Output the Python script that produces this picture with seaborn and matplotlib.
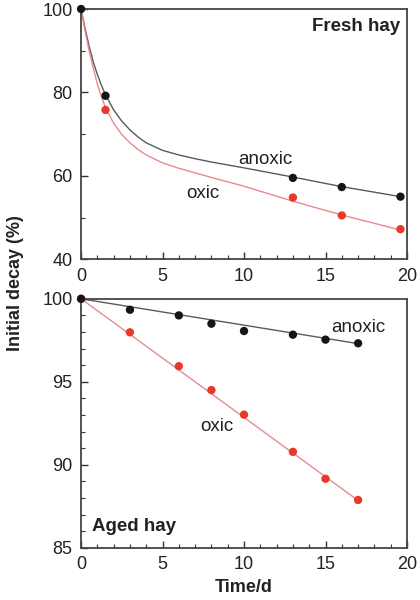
import numpy as np
import pandas as pd
import matplotlib
matplotlib.use("Agg")
import matplotlib.pyplot as plt
from matplotlib.ticker import MultipleLocator
import seaborn as sns

# fresh hay - measured points
fresh_t = [0, 1.5, 13, 16, 19.6]
fresh_anoxic = [100, 79.2, 59.5, 57.3, 55.0]
fresh_oxic_t = [1.5, 13, 16, 19.6]
fresh_oxic = [75.8, 54.8, 50.5, 47.2]

# fresh hay - fitted curves
fit_t = [0, 0.25, 0.5, 0.75, 1, 1.25, 1.5, 2, 2.5, 3, 3.5, 4, 5, 6, 7, 8, 10, 13, 16, 19.6]
fit_fresh_anoxic = [100, 95.3, 91.0, 87.3, 84.3, 81.7, 79.4, 75.8, 73.1, 71.0, 69.3,
                    67.9, 66.1, 65.0, 64.1, 63.3, 61.9, 59.7, 57.4, 55.0]
fit_fresh_oxic = [100, 94.6, 89.9, 85.8, 82.0, 79.0, 76.3, 72.6, 69.9, 67.9, 66.3,
                  65.0, 63.1, 61.8, 60.7, 59.6, 57.5, 53.9, 50.6, 47.0]

# aged hay - measured points
aged_t = [0, 3, 6, 8, 10, 13, 15, 17]
aged_anoxic = [100, 99.34, 99.0, 98.5, 98.06, 97.84, 97.54, 97.32]
aged_oxic = [100, 97.98, 95.94, 94.5, 93.02, 90.78, 89.16, 87.88]

# aged hay - fitted lines
aged_fit_t = [0, 17]
aged_fit_anoxic = [100, 97.3]
aged_fit_oxic = [100, 87.85]

black = "#151515"
red = "#e8382a"
line_black = "#5a5a5a"
line_red = "#e88a90"
txt = "#222222"

sns.set_style("ticks")
plt.rcParams["font.family"] = ["Liberation Sans", "DejaVu Sans"]

fig = plt.figure(figsize=(4.2, 6), dpi=100)
ax1 = fig.add_axes([0.193, 0.568, 0.776, 0.417])
ax2 = fig.add_axes([0.193, 0.087, 0.776, 0.415])


def style(ax, ylo, yhi, ymaj, ymin):
    ax.set_xlim(0, 20)
    ax.set_ylim(ylo, yhi)
    ax.xaxis.set_major_locator(MultipleLocator(5))
    ax.xaxis.set_minor_locator(MultipleLocator(1))
    ax.yaxis.set_major_locator(MultipleLocator(ymaj))
    ax.yaxis.set_minor_locator(MultipleLocator(ymin))
    ax.tick_params(which="both", direction="in", top=False, right=False,
                   colors="#333333", labelcolor=txt, labelsize=13)
    ax.tick_params(which="major", length=5, width=1.0, pad=6)
    ax.tick_params(which="minor", length=3, width=0.8)
    for s in ax.spines.values():
        s.set_color("#444444")
        s.set_linewidth(1.3)
        s.set_visible(True)
    ax.set_xlabel("")
    ax.set_ylabel("")


# top panel
sns.lineplot(x=fit_t, y=fit_fresh_anoxic, ax=ax1, color=line_black, lw=1.0)
sns.lineplot(x=fit_t, y=fit_fresh_oxic, ax=ax1, color=line_red, lw=1.0)
sns.scatterplot(x=fresh_oxic_t, y=fresh_oxic, ax=ax1, color=red, s=36,
                edgecolor="none", clip_on=False, zorder=3)
sns.scatterplot(x=fresh_t, y=fresh_anoxic, ax=ax1, color=black, s=36,
                edgecolor="none", clip_on=False, zorder=3)
style(ax1, 40, 100, 20, 10)
ax1.text(11.3, 64.0, "anoxic", ha="center", va="center", fontsize=13.5, color=txt)
ax1.text(7.45, 55.8, "oxic", ha="center", va="center", fontsize=13.5, color=txt)
ax1.text(19.6, 95.8, "Fresh hay", ha="right", va="center", fontsize=13.5,
         fontweight="bold", color=txt)

# bottom panel
sns.lineplot(x=aged_fit_t, y=aged_fit_anoxic, ax=ax2, color=line_black, lw=1.0)
sns.lineplot(x=aged_fit_t, y=aged_fit_oxic, ax=ax2, color=line_red, lw=1.0)
sns.scatterplot(x=aged_t, y=aged_oxic, ax=ax2, color=red, s=36,
                edgecolor="none", clip_on=False, zorder=3)
sns.scatterplot(x=aged_t, y=aged_anoxic, ax=ax2, color=black, s=36,
                edgecolor="none", clip_on=False, zorder=3)
style(ax2, 85, 100, 5, 1)
ax2.text(17.0, 98.3, "anoxic", ha="center", va="center", fontsize=13.5, color=txt)
ax2.text(8.35, 92.3, "oxic", ha="center", va="center", fontsize=13.5, color=txt)
ax2.text(0.7, 86.3, "Aged hay", ha="left", va="center", fontsize=13.5,
         fontweight="bold", color=txt)

fig.text(0.581, 0.02, "Time/d", ha="center", va="center", fontsize=13,
         fontweight="bold", color=txt)
fig.text(0.038, 0.528, "Initial decay (%)", rotation=90, ha="center", va="center",
         fontsize=13, fontweight="bold", color=txt)

fig.savefig("out.png", dpi=100)
